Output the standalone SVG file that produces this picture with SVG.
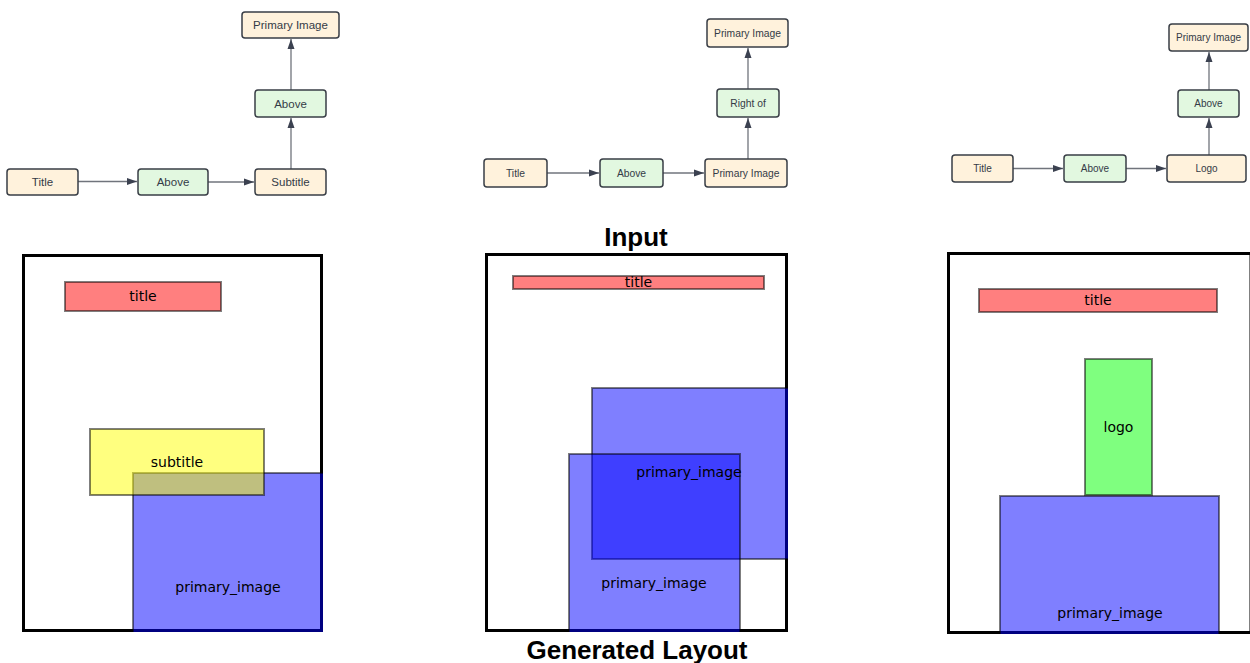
<svg xmlns="http://www.w3.org/2000/svg" width="1250" height="663" viewBox="0 0 1250 663">
  <style>
    .node rect { stroke: #393e46; stroke-width: 1.5; }
    .cream { fill: #fff2dc; }
    .mint { fill: #e2f8e0; }
    .lbl { font-family: "Liberation Sans", Arial, sans-serif; fill: #343b47; text-anchor: middle; dominant-baseline: central; }
    .p1 { font-size: 11.5px; }
    .p2 { font-size: 10.3px; }
    .p3 { font-size: 10px; }
    .edge { stroke: #70747c; stroke-width: 1.3; fill: none; marker-end: url(#arrow); }
    .frame { fill: #ffffff; stroke: #000000; stroke-width: 3; }
    .box { stroke: #000000; stroke-width: 2; fill-opacity: 0.5; stroke-opacity: 0.5; }
    .red { fill: #ff0000; }
    .yellow { fill: #ffff00; }
    .blue { fill: #0000ff; }
    .green { fill: #00ff00; }
    .boxlbl { font-family: "DejaVu Sans", Verdana, sans-serif; font-size: 14px; fill: #000000; text-anchor: middle; }
    .caption { font-family: "Liberation Sans", Arial, sans-serif; font-weight: bold; font-size: 26px; fill: #000000; text-anchor: middle; }
  </style>
  <defs>
    <marker id="arrow" markerUnits="userSpaceOnUse" markerWidth="10" markerHeight="8" refX="10" refY="4" orient="auto">
      <path d="M0,0.5 L10,4 L0,7.5 z" fill="#3b4150"/>
    </marker>
    <clipPath id="clip1"><rect x="22" y="254" width="301" height="378"/></clipPath>
    <clipPath id="clip2"><rect x="485" y="253" width="303" height="379"/></clipPath>
    <clipPath id="clip3"><rect x="947" y="252" width="310" height="382"/></clipPath>
  </defs>

  <rect width="1250" height="663" fill="#ffffff"/>

  <!-- constraint graphs: connectors -->
  <g id="connectors">
    <line class="edge" x1="78" y1="181.5" x2="137" y2="181.5"/>
    <line class="edge" x1="208" y1="182" x2="254" y2="182"/>
    <line class="edge" x1="291" y1="169" x2="291" y2="118"/>
    <line class="edge" x1="291" y1="90" x2="291" y2="39"/>

    <line class="edge" x1="547" y1="173" x2="599" y2="173"/>
    <line class="edge" x1="663" y1="173" x2="704" y2="173"/>
    <line class="edge" x1="748" y1="159" x2="748" y2="118"/>
    <line class="edge" x1="748" y1="89" x2="748" y2="48"/>

    <line class="edge" x1="1013" y1="168.5" x2="1063" y2="168.5"/>
    <line class="edge" x1="1126" y1="168.5" x2="1166" y2="168.5"/>
    <line class="edge" x1="1209" y1="155" x2="1209" y2="118"/>
    <line class="edge" x1="1209" y1="90" x2="1209" y2="52"/>
  </g>

  <!-- graph 1: title / subtitle / primary image -->
  <g id="g1-primary-image" class="node"><rect class="cream" x="242" y="12" width="97" height="26" rx="3"/><text class="lbl p1" x="290.5" y="25">Primary Image</text></g>
  <g id="g1-above-2" class="node"><rect class="mint" x="255" y="90" width="71" height="27" rx="3"/><text class="lbl p1" x="290.5" y="103.5">Above</text></g>
  <g id="g1-title" class="node"><rect class="cream" x="7" y="169" width="71" height="26" rx="3"/><text class="lbl p1" x="42.5" y="182">Title</text></g>
  <g id="g1-above-1" class="node"><rect class="mint" x="138" y="169" width="70" height="26" rx="3"/><text class="lbl p1" x="173" y="182">Above</text></g>
  <g id="g1-subtitle" class="node"><rect class="cream" x="255" y="169" width="71" height="26" rx="3"/><text class="lbl p1" x="290.5" y="182">Subtitle</text></g>

  <!-- graph 2: title / primary image right of primary image -->
  <g id="g2-primary-image-top" class="node"><rect class="cream" x="707" y="19" width="81" height="28" rx="3"/><text class="lbl p2" x="747.5" y="33">Primary Image</text></g>
  <g id="g2-right-of" class="node"><rect class="mint" x="717" y="89" width="62" height="28" rx="3"/><text class="lbl p2" x="748" y="103">Right of</text></g>
  <g id="g2-title" class="node"><rect class="cream" x="484" y="159" width="63" height="28" rx="3"/><text class="lbl p2" x="515.5" y="173">Title</text></g>
  <g id="g2-above" class="node"><rect class="mint" x="600" y="159" width="63" height="28" rx="3"/><text class="lbl p2" x="631.5" y="173">Above</text></g>
  <g id="g2-primary-image" class="node"><rect class="cream" x="705" y="159" width="82" height="28" rx="3"/><text class="lbl p2" x="746" y="173">Primary Image</text></g>

  <!-- graph 3: title / logo / primary image -->
  <g id="g3-primary-image" class="node"><rect class="cream" x="1169" y="24" width="79" height="27" rx="3"/><text class="lbl p3" x="1208.5" y="37.5">Primary Image</text></g>
  <g id="g3-above-2" class="node"><rect class="mint" x="1178" y="90" width="61" height="27" rx="3"/><text class="lbl p3" x="1208.5" y="103.5">Above</text></g>
  <g id="g3-title" class="node"><rect class="cream" x="952" y="155" width="61" height="27" rx="3"/><text class="lbl p3" x="982.5" y="168.5">Title</text></g>
  <g id="g3-above-1" class="node"><rect class="mint" x="1064" y="155" width="62" height="27" rx="3"/><text class="lbl p3" x="1095" y="168.5">Above</text></g>
  <g id="g3-logo" class="node"><rect class="cream" x="1167" y="155" width="79" height="27" rx="3"/><text class="lbl p3" x="1206.5" y="168.5">Logo</text></g>

  <!-- captions -->
  <text class="caption" x="636" y="246">Input</text>
  <text class="caption" x="637" y="659">Generated Layout</text>

  <!-- layout 1 -->
  <g id="layout-1">
    <rect class="frame" x="23.5" y="255.5" width="298" height="375"/>
    <g clip-path="url(#clip1)">
      <rect class="box red" x="65" y="282" width="156" height="29"/>
      <rect class="box blue" x="133" y="473" width="220" height="220"/>
      <rect class="box yellow" x="90" y="429" width="174" height="66"/>
    </g>
    <text class="boxlbl" x="143" y="300.5">title</text>
    <text class="boxlbl" x="177" y="466.5">subtitle</text>
    <text class="boxlbl" x="228" y="591.5">primary_image</text>
  </g>

  <!-- layout 2 -->
  <g id="layout-2">
    <rect class="frame" x="486.5" y="254.5" width="300" height="376"/>
    <g clip-path="url(#clip2)">
      <rect class="box red" x="513" y="276" width="251" height="13"/>
      <rect class="box blue" x="592" y="388" width="250" height="171"/>
      <rect class="box blue" x="569" y="454" width="171" height="250"/>
    </g>
    <text class="boxlbl" x="638.5" y="287">title</text>
    <text class="boxlbl" x="689" y="477">primary_image</text>
    <text class="boxlbl" x="654" y="588">primary_image</text>
  </g>

  <!-- layout 3 -->
  <g id="layout-3">
    <rect class="frame" x="948.5" y="253.5" width="302.5" height="379"/>
    <g clip-path="url(#clip3)">
      <rect class="box red" x="979" y="289" width="238" height="23"/>
      <rect class="box green" x="1085" y="359" width="67" height="136"/>
      <rect class="box blue" x="1000" y="496" width="219" height="200"/>
    </g>
    <text class="boxlbl" x="1098" y="305">title</text>
    <text class="boxlbl" x="1118.5" y="431.5">logo</text>
    <text class="boxlbl" x="1110" y="617.5">primary_image</text>
  </g>
</svg>
